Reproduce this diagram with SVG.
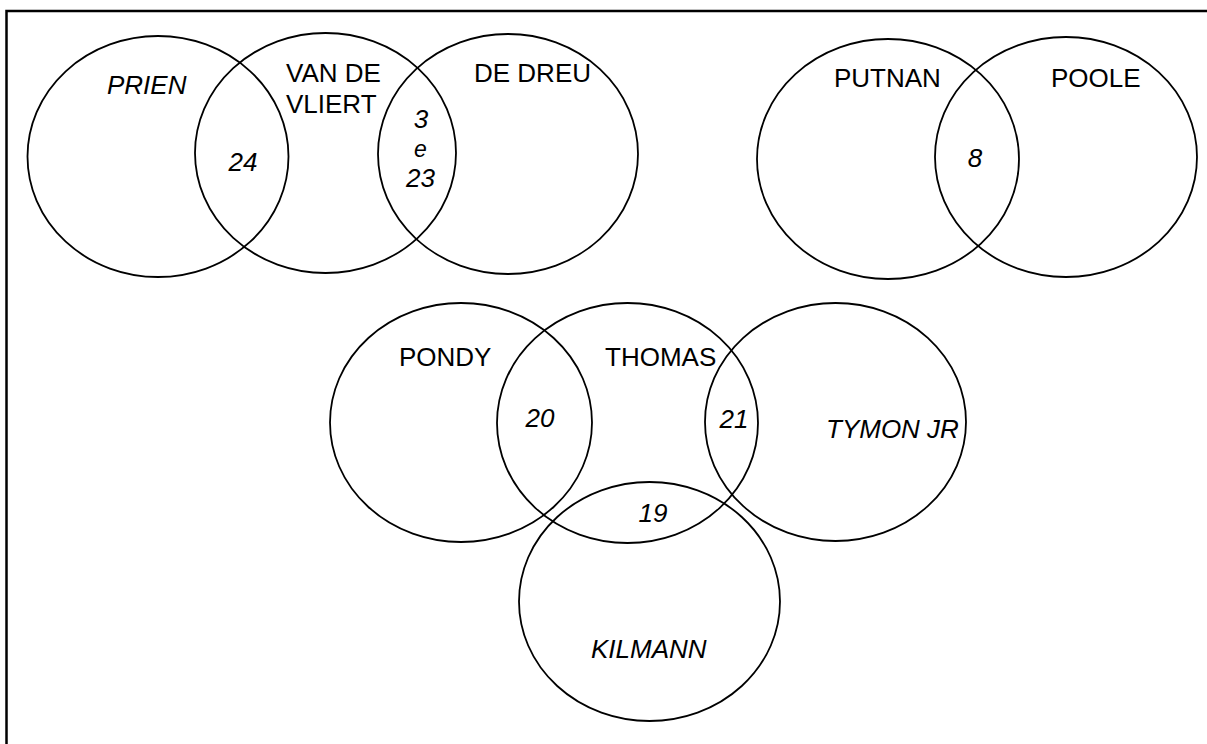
<svg xmlns="http://www.w3.org/2000/svg" width="1207" height="744" viewBox="0 0 1207 744">
  <style>
    .set { fill: none; stroke: #000; stroke-width: 1.8; }
    .frame { fill: none; stroke: #000; stroke-width: 2.5; }
    text { font-family: "Liberation Sans", Arial, sans-serif; font-size: 26px; fill: #000; }
    .it { font-style: italic; }
    .mid { text-anchor: middle; }
  </style>
  <rect width="1207" height="744" fill="#fff"/>
  <!-- page frame: only the top and left edges fall inside the view -->
  <rect class="frame" x="6.5" y="11" width="1400" height="900"/>

  <!-- group 1: Prien / Van de Vliert / De Dreu -->
  <g id="prien">
    <ellipse class="set" cx="158" cy="156.5" rx="130.5" ry="120.5"/>
    <text class="it" x="107" y="94">PRIEN</text>
  </g>
  <g id="van-de-vliert">
    <ellipse class="set" cx="325.5" cy="153" rx="130.5" ry="120"/>
    <text x="286" y="82">VAN DE</text>
    <text x="286" y="113">VLIERT</text>
  </g>
  <g id="de-dreu">
    <ellipse class="set" cx="508" cy="154" rx="130" ry="120"/>
    <text x="474" y="82">DE DREU</text>
  </g>
  <g id="overlap-prien-vliert">
    <text class="it mid" x="243" y="171">24</text>
  </g>
  <g id="overlap-vliert-dreu">
    <text class="it mid" x="421" y="128">3</text>
    <text class="it mid" x="420.5" y="157" style="font-size:23px">e</text>
    <text class="it mid" x="420.5" y="187">23</text>
  </g>

  <!-- group 2: Putnan / Poole -->
  <g id="putnan">
    <ellipse class="set" cx="888" cy="159" rx="131" ry="120"/>
    <text x="834" y="87">PUTNAN</text>
  </g>
  <g id="poole">
    <ellipse class="set" cx="1066" cy="157" rx="131" ry="120"/>
    <text x="1051" y="87">POOLE</text>
  </g>
  <g id="overlap-putnan-poole">
    <text class="it mid" x="975" y="167">8</text>
  </g>

  <!-- group 3: Pondy / Thomas / Tymon Jr / Kilmann -->
  <g id="pondy">
    <ellipse class="set" cx="461" cy="422.5" rx="131" ry="119.5"/>
    <text x="399" y="366">PONDY</text>
  </g>
  <g id="thomas">
    <ellipse class="set" cx="627.5" cy="423" rx="130.5" ry="120"/>
    <text x="605" y="366">THOMAS</text>
  </g>
  <g id="tymon-jr">
    <ellipse class="set" cx="835.5" cy="422" rx="130.5" ry="119"/>
    <text class="it" x="826" y="438">TYMON JR</text>
  </g>
  <g id="kilmann">
    <ellipse class="set" cx="649.5" cy="601.5" rx="130.5" ry="119.5"/>
    <text class="it" x="591" y="658">KILMANN</text>
  </g>
  <g id="overlap-pondy-thomas">
    <text class="it mid" x="540" y="427">20</text>
  </g>
  <g id="overlap-thomas-tymon">
    <text class="it mid" x="734" y="428">21</text>
  </g>
  <g id="overlap-thomas-kilmann">
    <text class="it mid" x="653" y="522">19</text>
  </g>
</svg>
